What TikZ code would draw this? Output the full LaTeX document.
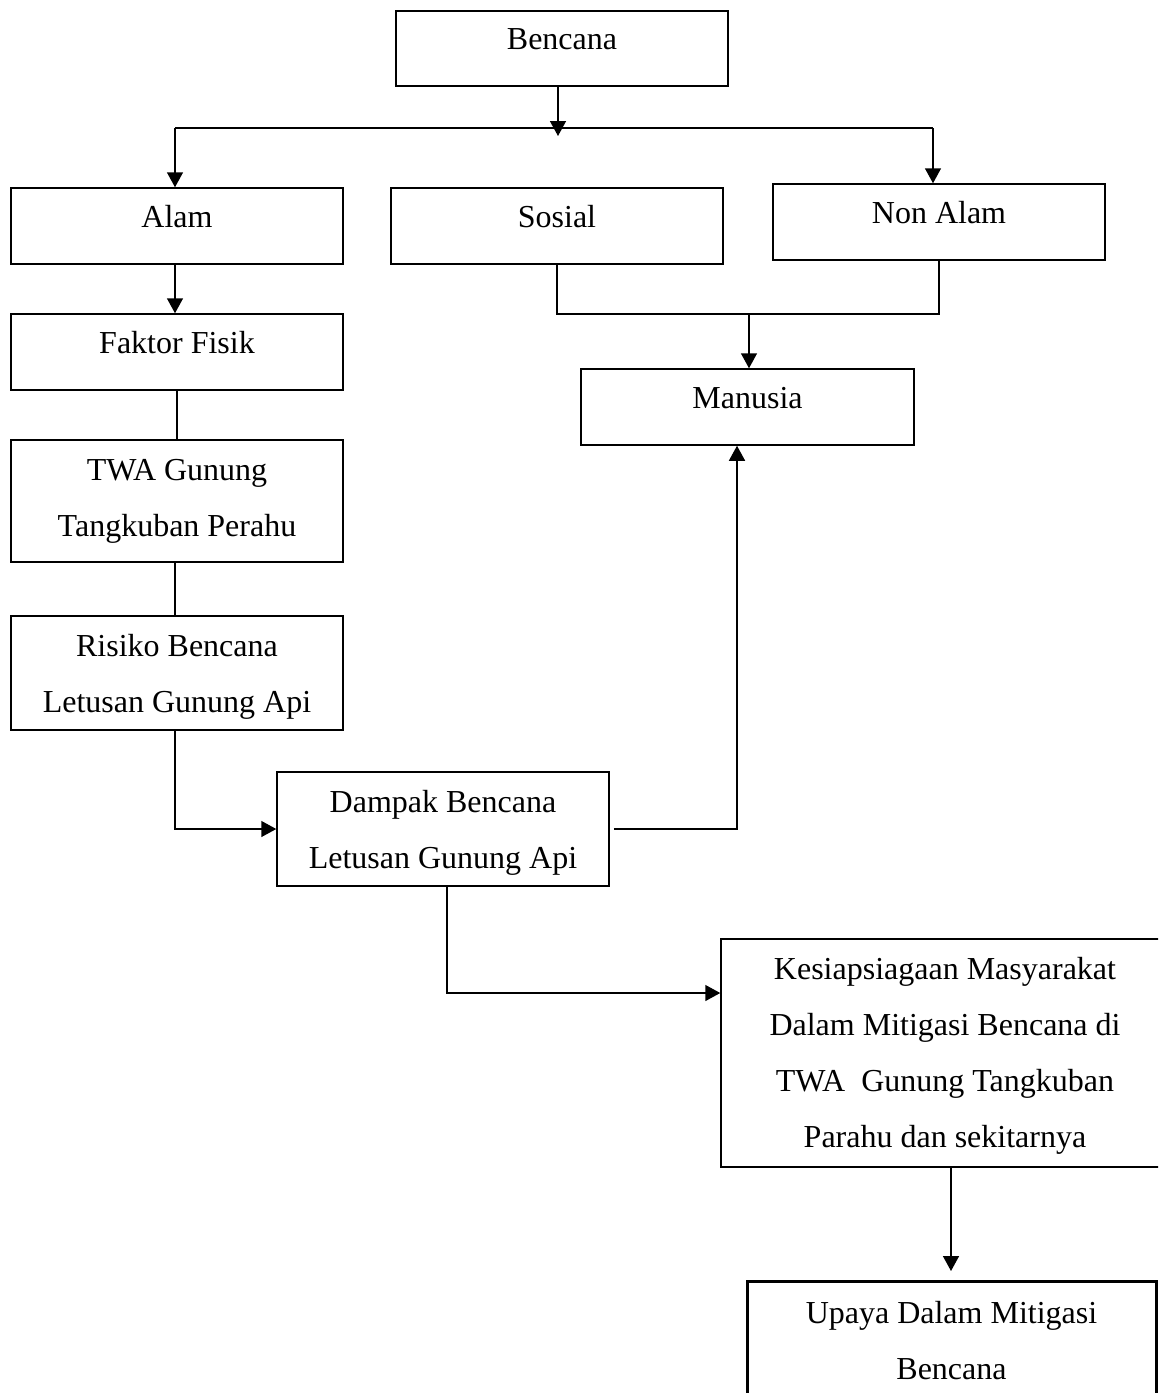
\documentclass[tikz,border=0pt]{standalone}
\usepackage{fontspec}
\setmainfont{Liberation Serif}
\usetikzlibrary{arrows.meta}
\tikzset{
  box/.style={draw, line width=0.75pt, inner sep=0pt, fill=none},
  lbl/.style={font=\fontsize{16}{28}\selectfont, align=center, inner sep=0pt},
  arr/.style={-{Triangle[length=7.5pt,width=8pt]}, line width=0.75pt},
  ln/.style={line width=0.75pt}
}
\begin{document}
\begin{tikzpicture}[x=0.5pt,y=-0.5pt]
\path[use as bounding box] (0,0) rectangle (1158,1393);
\clip (0,0) rectangle (1158,1393);

% boxes
\node[box, minimum width=166pt, minimum height=37.5pt, label={[lbl,yshift=4.5pt]center:Bencana}] (bencana) at (562,48.5) {};
\node[box, minimum width=166pt, minimum height=38pt, label={[lbl,yshift=4.5pt]center:Alam}] (alam) at (177,226) {};
\node[box, minimum width=166pt, minimum height=38pt, label={[lbl,yshift=4.5pt]center:Sosial}] (sosial) at (557,226) {};
\node[box, minimum width=166pt, minimum height=38pt, label={[lbl,yshift=4.5pt]center:Non Alam}] (nonalam) at (939,222) {};
\node[box, minimum width=166pt, minimum height=38pt, label={[lbl,yshift=4.5pt]center:Faktor Fisik}] (faktor) at (177,352) {};
\node[box, minimum width=166pt, minimum height=61pt, label={[lbl]center:TWA Gunung\\Tangkuban Perahu}] (twa) at (177,501) {};
\node[box, minimum width=166pt, minimum height=57pt, label={[lbl,yshift=-2pt]center:Risiko Bencana\\Letusan Gunung Api}] (risiko) at (177,673) {};
\node[box, minimum width=166.5pt, minimum height=38pt, label={[lbl,yshift=4.5pt]center:Manusia}] (manusia) at (747.5,407) {};
\node[box, minimum width=166pt, minimum height=57pt, label={[lbl,yshift=-2pt]center:Dampak Bencana\\Letusan Gunung Api}] (dampak) at (443,829) {};
\node[box, minimum width=224pt, minimum height=114pt, label={[lbl,yshift=-1.25pt]center:Kesiapsiagaan Masyarakat\\Dalam Mitigasi Bencana di\\TWA\ \ Gunung Tangkuban\\Parahu dan sekitarnya}] (kesiap) at (945,1053) {};
\node[box, line width=1.5pt, minimum width=204.5pt, minimum height=59.5pt, label={[lbl]center:Upaya Dalam Mitigasi\\Bencana}] (upaya) at (951.5,1340.5) {};

% helper coordinates
\coordinate (split) at (558,136);
\coordinate (hl) at (175,128);
\coordinate (hr) at (933,128);
\coordinate (lx) at (175,0);
\coordinate (jm) at (749,314);
\coordinate (mx) at (737,0);
\coordinate (kx) at (447,993);
\coordinate (ue) at (951,1271);

% connectors
\draw[ln] (hl) -- (hr);
\draw[arr] (bencana.south -| split) -- (split);
\draw[arr] (hl) -- (alam.north -| hl);
\draw[arr] (hr) -- (nonalam.north -| hr);
\draw[arr] (alam.south -| lx) -- (faktor.north -| lx);
\draw[ln] ([xshift=1pt]faktor.south -| lx) -- ([xshift=1pt]twa.north -| lx);
\draw[ln] (twa.south -| lx) -- (risiko.north -| lx);
\draw[arr] (risiko.south -| lx) |- (dampak.west);
\draw[ln] (sosial.south) |- (jm) -| (nonalam.south);
\draw[arr] (jm) -- (manusia.north -| jm);
\draw[arr] ([xshift=2pt]dampak.east) -| (manusia.south -| mx);
\draw[arr] (dampak.south -| kx) |- (kesiap.west |- kx);
\draw[arr] (kesiap.south -| ue) -- (ue);
\end{tikzpicture}
\end{document}
